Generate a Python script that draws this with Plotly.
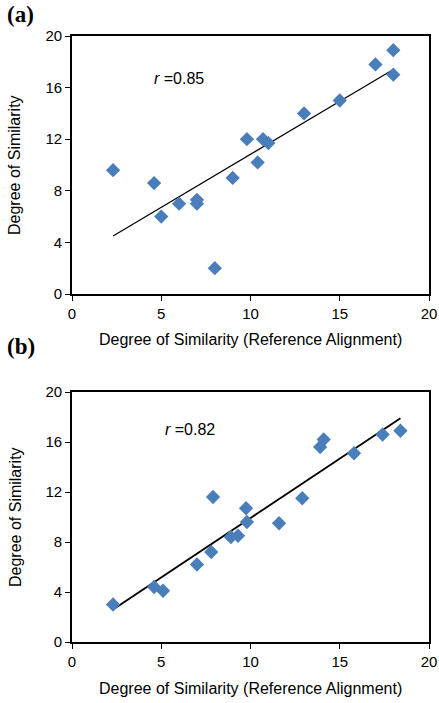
import plotly.graph_objects as go

# Panel (a) data
a_x = [2.3, 4.6, 5.0, 6.0, 7.0, 7.0, 8.0, 9.0, 9.8, 10.4, 10.7, 11.0, 13.0, 15.0, 17.0, 18.0, 18.0]
a_y = [9.6, 8.6, 6.0, 7.0, 7.3, 7.0, 2.0, 9.0, 12.0, 10.2, 12.0, 11.7, 14.0, 15.0, 17.8, 18.9, 17.0]
a_trend_x = [2.3, 18.0]
a_trend_y = [4.5, 17.4]
a_label = "<i>r</i> =0.85"

# Panel (b) data
b_x = [2.3, 4.6, 5.1, 7.0, 7.8, 7.9, 8.9, 9.3, 9.75, 9.8, 11.6, 12.9, 13.9, 14.1, 15.8, 17.4, 18.4]
b_y = [3.0, 4.4, 4.1, 6.2, 7.2, 11.6, 8.4, 8.5, 10.7, 9.6, 9.5, 11.5, 15.6, 16.2, 15.1, 16.6, 16.9]
b_trend_x = [2.3, 18.4]
b_trend_y = [2.6, 17.9]
b_label = "<i>r</i> =0.82"

x_ticks = [0, 5, 10, 15, 20]
y_ticks = [0, 4, 8, 12, 16, 20]
x_title = "Degree of Similarity (Reference Alignment)"
y_title = "Degree of Similarity"

MARKER = dict(symbol="diamond", size=11, color="#4A7EBB", line=dict(width=0))
FONT = "Liberation Sans, Arial, sans-serif"
SERIF = "Liberation Serif, Times New Roman, serif"

W, H = 439, 703
ML, MR, MT, MB = 72, 10, 36, 61
PW = W - ML - MR
PH = H - MT - MB


def px_x(px):
    return (px - ML) / PW


def px_y(py):
    return (H - MB - py) / PH


fig = go.Figure()
fig.add_trace(go.Scatter(x=a_trend_x, y=a_trend_y, mode="lines", line=dict(color="black", width=1.2),
                         xaxis="x", yaxis="y", showlegend=False, hoverinfo="skip"))
fig.add_trace(go.Scatter(x=a_x, y=a_y, mode="markers", marker=MARKER, xaxis="x", yaxis="y", showlegend=False))
fig.add_trace(go.Scatter(x=b_trend_x, y=b_trend_y, mode="lines", line=dict(color="black", width=1.8),
                         xaxis="x2", yaxis="y2", showlegend=False, hoverinfo="skip"))
fig.add_trace(go.Scatter(x=b_x, y=b_y, mode="markers", marker=MARKER, xaxis="x2", yaxis="y2", showlegend=False))

axis_common = dict(range=[0, 20], showgrid=False, zeroline=False, showline=True, linecolor="black",
                   linewidth=1.8, mirror=True, ticks="outside", ticklen=5, tickcolor="black",
                   automargin=False,
                   tickfont=dict(size=15, color="black", family=FONT))

dom_a = [px_y(294), 1.0]
dom_b = [0.0, px_y(392)]

fig.update_layout(
    width=W, height=H,
    margin=dict(l=ML, r=MR, t=MT, b=MB),
    plot_bgcolor="white", paper_bgcolor="white",
    font=dict(family=FONT, color="black"),
    xaxis=dict(**axis_common, tickvals=x_ticks, anchor="y"),
    yaxis=dict(**axis_common, tickvals=y_ticks, domain=dom_a, anchor="x"),
    xaxis2=dict(**axis_common, tickvals=x_ticks, anchor="y2"),
    yaxis2=dict(**axis_common, tickvals=y_ticks, domain=dom_b, anchor="x2"),
    annotations=[
        dict(text=a_label, x=6.0, y=16.7, xref="x", yref="y", showarrow=False,
             font=dict(size=16, family=FONT)),
        dict(text=b_label, x=6.6, y=17.0, xref="x2", yref="y2", showarrow=False,
             font=dict(size=16, family=FONT)),
        dict(text="<b>(a)</b>", x=px_x(5), y=px_y(15), xref="paper", yref="paper", showarrow=False,
             xanchor="left", yanchor="middle", font=dict(size=23, family=SERIF)),
        dict(text="<b>(b)</b>", x=px_x(5), y=px_y(347), xref="paper", yref="paper", showarrow=False,
             xanchor="left", yanchor="middle", font=dict(size=23, family=SERIF)),
        # axis titles
        dict(text=x_title, x=px_x(250), y=px_y(339), xref="paper", yref="paper", showarrow=False,
             xanchor="center", yanchor="middle", font=dict(size=16, family=FONT)),
        dict(text=x_title, x=px_x(250), y=px_y(688), xref="paper", yref="paper", showarrow=False,
             xanchor="center", yanchor="middle", font=dict(size=16, family=FONT)),
        dict(text=y_title, x=px_x(15), y=px_y(165), xref="paper", yref="paper", showarrow=False,
             textangle=-90, xanchor="center", yanchor="middle", font=dict(size=16, family=FONT)),
        dict(text=y_title, x=px_x(15), y=px_y(517), xref="paper", yref="paper", showarrow=False,
             textangle=-90, xanchor="center", yanchor="middle", font=dict(size=16, family=FONT)),
    ],
)

fig.write_html("out.html", config={"displayModeBar": False},
               post_script="document.body.style.margin='0';document.body.style.overflow='hidden';")
